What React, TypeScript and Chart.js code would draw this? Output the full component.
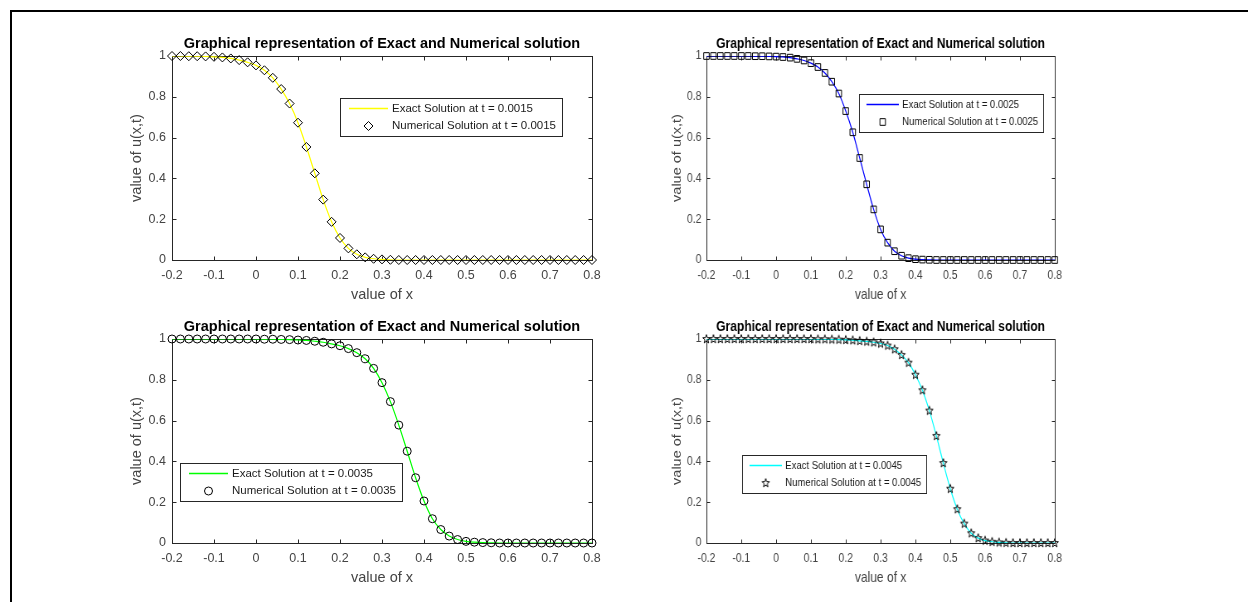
import React, { useEffect, useRef } from 'react';
import { Chart, registerables } from 'chart.js';

Chart.register(...registerables);

// ---------- data ----------
const xValues = [
  -0.2, -0.18, -0.16, -0.14, -0.12, -0.1, -0.08, -0.06, -0.04, -0.02,
  0, 0.02, 0.04, 0.06, 0.08, 0.1, 0.12, 0.14, 0.16, 0.18,
  0.2, 0.22, 0.24, 0.26, 0.28, 0.3, 0.32, 0.34, 0.36, 0.38,
  0.4, 0.42, 0.44, 0.46, 0.48, 0.5, 0.52, 0.54, 0.56, 0.58,
  0.6, 0.62, 0.64, 0.66, 0.68, 0.7, 0.72, 0.74, 0.76, 0.78, 0.8,
];

// u(x,t) at t = 0.0015
const u0015 = [
  1.0, 1.0, 0.999, 0.999, 0.998, 0.996, 0.993, 0.988, 0.98, 0.969,
  0.954, 0.93, 0.893, 0.838, 0.767, 0.673, 0.554, 0.425, 0.296, 0.187,
  0.108, 0.057, 0.028, 0.013, 0.006, 0.003, 0.001, 0, 0, 0,
  0, 0, 0, 0, 0, 0, 0, 0, 0, 0,
  0, 0, 0, 0, 0, 0, 0, 0, 0, 0, 0,
];

// u(x,t) at t = 0.0025
const u0025 = [
  1.0, 1.0, 1.0, 1.0, 1.0, 1.0, 1.0, 0.999, 0.999, 0.998,
  0.997, 0.995, 0.992, 0.986, 0.978, 0.965, 0.946, 0.917, 0.874, 0.816,
  0.73, 0.626, 0.5, 0.371, 0.248, 0.15, 0.085, 0.043, 0.021, 0.009,
  0.004, 0.002, 0.001, 0, 0, 0, 0, 0, 0, 0,
  0, 0, 0, 0, 0, 0, 0, 0, 0, 0, 0,
];

// u(x,t) at t = 0.0035
const u0035 = [
  1.0, 1.0, 1.0, 1.0, 1.0, 1.0, 1.0, 1.0, 1.0, 1.0,
  1.0, 0.999, 0.999, 0.998, 0.997, 0.995, 0.993, 0.989, 0.984, 0.976,
  0.967, 0.953, 0.933, 0.903, 0.856, 0.786, 0.693, 0.578, 0.45, 0.32,
  0.206, 0.119, 0.066, 0.034, 0.017, 0.008, 0.004, 0.002, 0.001, 0,
  0, 0, 0, 0, 0, 0, 0, 0, 0, 0, 0,
];

// u(x,t) at t = 0.0045
const u0045 = [
  1.0, 1.0, 1.0, 1.0, 1.0, 1.0, 1.0, 1.0, 1.0, 1.0,
  1.0, 1.0, 1.0, 1.0, 1.0, 1.0, 0.999, 0.999, 0.998, 0.997,
  0.996, 0.994, 0.991, 0.988, 0.984, 0.978, 0.968, 0.95, 0.922, 0.884,
  0.825, 0.749, 0.649, 0.525, 0.392, 0.266, 0.166, 0.095, 0.048, 0.024,
  0.012, 0.006, 0.003, 0.001, 0, 0, 0, 0, 0, 0, 0,
];

const timeLabels = ['0.0015', '0.0025', '0.0035', '0.0045'];
const titleText = 'Graphical representation of Exact and Numerical solution';
const xAxisLabel = 'value of x';
const yAxisLabel = 'value of u(x,t)';

// ---------- styling / layout ----------
const FONT = "'Liberation Sans', Arial, Helvetica, sans-serif";
const AXIS_COLOR = '#262626';
const TICK_TEXT = '#444444';
const SQUEEZE = 0.8294;

type MarkerKind = 'diamond' | 'square' | 'circle' | 'star';

interface PanelCfg {
  left: number;
  top: number;
  sx: number;
  color: string;
  marker: MarkerKind;
  values: number[];
  t: string;
  legendDx: number;
  legendDy: number;
}

const panels: PanelCfg[] = [
  { left: 110, top: 20, sx: 1, color: '#ffff00', marker: 'diamond', values: u0015, t: timeLabels[0], legendDx: 168, legendDy: 42 },
  { left: 706 - 62 * SQUEEZE, top: 20, sx: SQUEEZE, color: '#0000ff', marker: 'square', values: u0025, t: timeLabels[1], legendDx: 184, legendDy: 38 },
  { left: 110, top: 303, sx: 1, color: '#00ff00', marker: 'circle', values: u0035, t: timeLabels[2], legendDx: 8, legendDy: 124 },
  { left: 706 - 62 * SQUEEZE, top: 303, sx: SQUEEZE, color: '#00ffff', marker: 'star', values: u0045, t: timeLabels[3], legendDx: 43, legendDy: 116 },
];

const CANVAS_W = 500;
const CANVAS_H = 290;
const AREA_TOP = 36;
const AREA_H = 204;
const Y_AXIS_W = 62;
const RIGHT_PAD = 18;

function makeStarCanvas(): HTMLCanvasElement {
  const c = document.createElement('canvas');
  c.width = 12;
  c.height = 12;
  const g = c.getContext('2d')!;
  const cx = 6, cy = 6.2, ro = 4.6, ri = 1.9;
  g.beginPath();
  for (let k = 0; k < 10; k++) {
    const r = k % 2 === 0 ? ro : ri;
    const ang = -Math.PI / 2 + (k * Math.PI) / 5;
    const px = cx + r * Math.cos(ang);
    const py = cy + r * Math.sin(ang);
    if (k === 0) g.moveTo(px, py);
    else g.lineTo(px, py);
  }
  g.closePath();
  g.strokeStyle = '#000';
  g.lineWidth = 1;
  g.stroke();
  return c;
}

function markerRadius(kind: MarkerKind): number {
  if (kind === 'diamond') return 4.5;
  if (kind === 'square') return 4.7;
  if (kind === 'circle') return 4;
  return 4.5;
}

function drawMarker(ctx: CanvasRenderingContext2D, kind: MarkerKind, x: number, y: number, star: HTMLCanvasElement) {
  const r = markerRadius(kind);
  ctx.save();
  ctx.strokeStyle = '#000';
  ctx.lineWidth = 1;
  ctx.beginPath();
  if (kind === 'diamond') {
    ctx.moveTo(x, y - r);
    ctx.lineTo(x + r, y);
    ctx.lineTo(x, y + r);
    ctx.lineTo(x - r, y);
    ctx.closePath();
    ctx.stroke();
  } else if (kind === 'square') {
    const h = r * Math.SQRT1_2;
    ctx.rect(x - h, y - h, 2 * h, 2 * h);
    ctx.stroke();
  } else if (kind === 'circle') {
    ctx.arc(x, y, r, 0, Math.PI * 2);
    ctx.stroke();
  } else {
    ctx.drawImage(star, x - star.width / 2, y - star.height / 2);
  }
  ctx.restore();
}

function PanelChart({ cfg }: { cfg: PanelCfg }) {
  const ref = useRef<HTMLCanvasElement | null>(null);

  useEffect(() => {
    if (!ref.current) return;
    const star = makeStarCanvas();
    const pts = xValues.map((x, i) => ({ x, y: cfg.values[i] }));
    const exactLabel = 'Exact Solution at t = ' + cfg.t;
    const numLabel = 'Numerical Solution at t = ' + cfg.t;

    let pointStyle: any = 'circle';
    if (cfg.marker === 'diamond') pointStyle = 'rectRot';
    else if (cfg.marker === 'square') pointStyle = 'rect';
    else if (cfg.marker === 'star') pointStyle = star;

    const decor = {
      id: 'matlabDecor',
      beforeDatasetsDraw(chart: any) {
        const { ctx, chartArea: a, scales } = chart;
        ctx.save();
        ctx.strokeStyle = AXIS_COLOR;
        ctx.lineWidth = 1;
        const L = Math.round(a.left) + 0.5;
        const T = Math.round(a.top) + 0.5;
        const R = Math.round(a.right) + 0.5;
        const B = Math.round(a.bottom) + 0.5;
        ctx.strokeRect(L, T, R - L, B - T);
        ctx.beginPath();
        for (const t of scales.x.ticks) {
          const px = Math.round(scales.x.getPixelForValue(t.value)) + 0.5;
          ctx.moveTo(px, B);
          ctx.lineTo(px, B - 4);
          ctx.moveTo(px, T);
          ctx.lineTo(px, T + 4);
        }
        for (const t of scales.y.ticks) {
          const py = Math.round(scales.y.getPixelForValue(t.value)) + 0.5;
          ctx.moveTo(L, py);
          ctx.lineTo(L + 4, py);
          ctx.moveTo(R, py);
          ctx.lineTo(R - 4, py);
        }
        ctx.stroke();
        ctx.restore();
      },
      afterDraw(chart: any) {
        const { ctx, chartArea: a } = chart;
        ctx.save();
        // title
        ctx.fillStyle = '#000';
        ctx.font = `bold 14.5px ${FONT}`;
        ctx.textAlign = 'center';
        ctx.textBaseline = 'middle';
        ctx.fillText(titleText, (a.left + a.right) / 2, a.top - 12);
        // axis labels
        ctx.fillStyle = TICK_TEXT;
        ctx.font = `14.5px ${FONT}`;
        ctx.fillText(xAxisLabel, (a.left + a.right) / 2, a.bottom + 34.5);
        ctx.save();
        ctx.translate(a.left - 35, (a.top + a.bottom) / 2);
        ctx.rotate(-Math.PI / 2);
        ctx.fillText(yAxisLabel, 0, 0);
        ctx.restore();
        // legend
        const lx = Math.round(a.left + cfg.legendDx);
        const ly = Math.round(a.top + cfg.legendDy);
        ctx.font = `11.5px ${FONT}`;
        const tw = Math.max(ctx.measureText(exactLabel).width, ctx.measureText(numLabel).width);
        const bw = Math.round(52 + tw + 6);
        const bh = 38;
        ctx.fillStyle = '#fff';
        ctx.fillRect(lx, ly, bw, bh);
        ctx.strokeStyle = AXIS_COLOR;
        ctx.lineWidth = 1;
        ctx.strokeRect(lx + 0.5, ly + 0.5, bw, bh);
        ctx.strokeStyle = cfg.color;
        ctx.lineWidth = 1.5;
        ctx.beginPath();
        ctx.moveTo(lx + 9, ly + 10.5);
        ctx.lineTo(lx + 48, ly + 10.5);
        ctx.stroke();
        ctx.lineWidth = 1;
        drawMarker(ctx, cfg.marker, lx + 28.5, ly + 28, star);
        ctx.fillStyle = '#1a1a1a';
        ctx.textAlign = 'left';
        ctx.textBaseline = 'middle';
        ctx.fillText(exactLabel, lx + 52, ly + 11);
        ctx.fillText(numLabel, lx + 52, ly + 28);
        ctx.restore();
      },
    };

    const fmt = (v: any) => {
      const n = Math.round(Number(v) * 10) / 10;
      return String(n);
    };

    const chart = new Chart(ref.current, {
      type: 'scatter',
      data: {
        datasets: [
          {
            label: numLabel,
            data: pts,
            showLine: false,
            pointStyle,
            pointRadius: markerRadius(cfg.marker),
            pointHoverRadius: markerRadius(cfg.marker),
            pointBorderColor: '#000',
            pointBackgroundColor: 'rgba(0,0,0,0)',
            pointBorderWidth: 1,
            clip: false as any,
            order: 0,
          } as any,
          {
            label: exactLabel,
            data: pts,
            showLine: true,
            borderColor: cfg.color,
            backgroundColor: cfg.color,
            borderWidth: 1.2,
            pointRadius: 0,
            pointHoverRadius: 0,
            cubicInterpolationMode: 'monotone',
            order: 1,
          } as any,
        ],
      },
      options: {
        animation: false,
        responsive: true,
        maintainAspectRatio: false,
        events: [],
        layout: { padding: { top: AREA_TOP, right: RIGHT_PAD, left: 0, bottom: 0 } },
        plugins: {
          legend: { display: false },
          tooltip: { enabled: false },
          title: { display: false },
        },
        scales: {
          x: {
            type: 'linear',
            min: -0.2,
            max: 0.8,
            offset: false,
            grid: { display: false, drawTicks: false },
            border: { display: false },
            ticks: {
              stepSize: 0.1,
              padding: 8,
              color: TICK_TEXT,
              font: { family: FONT, size: 12.5 },
              maxRotation: 0,
              autoSkip: false,
              callback: fmt,
            },
            afterFit: (s: any) => {
              s.height = CANVAS_H - AREA_TOP - AREA_H;
            },
          },
          y: {
            type: 'linear',
            min: 0,
            max: 1,
            grid: { display: false, drawTicks: false },
            border: { display: false },
            ticks: {
              stepSize: 0.2,
              padding: 6,
              color: TICK_TEXT,
              font: { family: FONT, size: 12.5 },
              callback: fmt,
            },
            afterFit: (s: any) => {
              s.width = Y_AXIS_W;
            },
          },
        },
      },
      plugins: [decor],
    });
    return () => chart.destroy();
  }, [cfg]);

  return (
    <div
      style={{
        position: 'absolute',
        left: cfg.left,
        top: cfg.top,
        width: CANVAS_W,
        height: CANVAS_H,
        transform: `scaleX(${cfg.sx})`,
        transformOrigin: '0 0',
      }}
    >
      <canvas ref={ref} />
    </div>
  );
}

export default function App() {
  return (
    <div
      style={{
        position: 'absolute',
        left: 0,
        top: 0,
        width: 1248,
        height: 602,
        overflow: 'hidden',
        background: '#fff',
      }}
    >
      <div
        style={{
          position: 'absolute',
          left: 10,
          top: 10,
          width: 1248,
          height: 602,
          borderTop: '2px solid #000',
          borderLeft: '2px solid #000',
        }}
      />
      {panels.map((p, i) => (
        <PanelChart key={i} cfg={p} />
      ))}
    </div>
  );
}
